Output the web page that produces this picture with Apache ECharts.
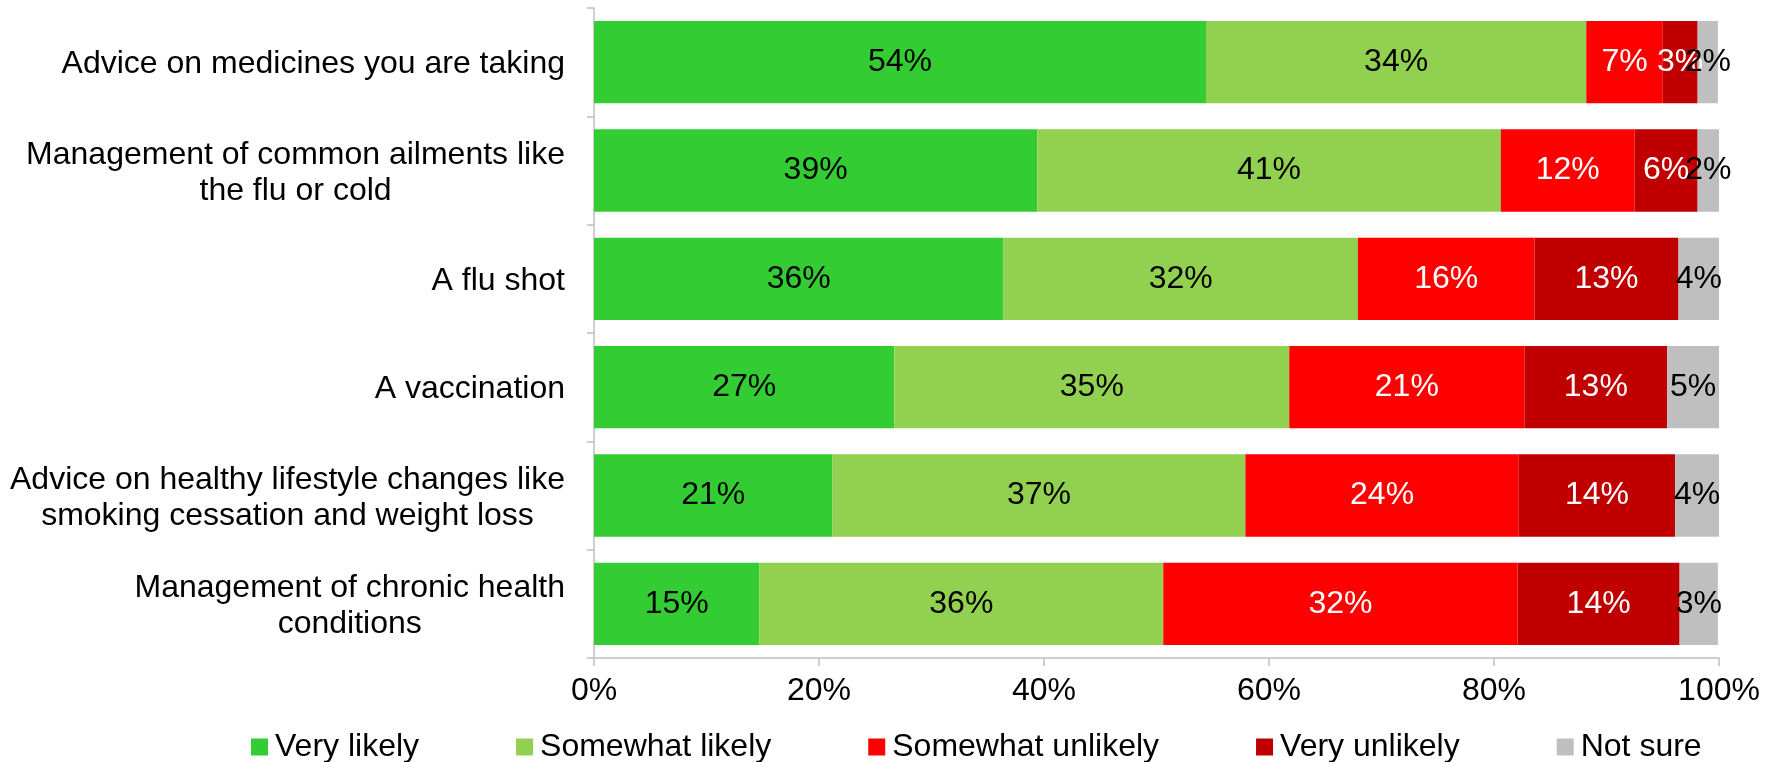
<!DOCTYPE html>
<html>
<head>
<meta charset="utf-8">
<script src="https://cdn.jsdelivr.net/npm/echarts@6/dist/echarts.min.js"></script>
<style>
html,body{margin:0;padding:0;background:#fff;}
#c{width:1775px;height:762px;}
</style>
</head>
<body>
<div id="c"></div>
<script>
const categories = [
  "Advice on medicines you are taking",
  "Management of common ailments like\nthe flu or cold",
  "A flu shot",
  "A vaccination",
  "Advice on healthy lifestyle changes like\nsmoking cessation and weight loss",
  "Management of chronic health\nconditions"
];
const seriesNames = ["Very likely", "Somewhat likely", "Somewhat unlikely", "Very unlikely", "Not sure"];
const veryLikely       = [54.4, 39.4, 36.4, 26.7, 21.2, 14.7];
const somewhatLikely   = [33.8, 41.2, 31.5, 35.1, 36.7, 35.9];
const somewhatUnlikely = [6.8, 11.9, 15.7, 20.9, 24.3, 31.5];
const veryUnlikely     = [3.1, 5.6, 12.8, 12.7, 13.9, 14.4];
const notSure          = [1.8, 1.9, 3.6, 4.6, 3.9, 3.4];
const xTicks = [0, 20, 40, 60, 80, 100];

const colors = ["#33CC33", "#92D050", "#FF0000", "#C00000", "#BFBFBF"];
const labelColors = ["#000000", "#000000", "#FFFFFF", "#FFFFFF", "#000000"];
const values = [veryLikely, somewhatLikely, somewhatUnlikely, veryUnlikely, notSure];
const FONT = "'Liberation Sans', Arial, sans-serif";
const FS = 32;

const chart = echarts.init(document.getElementById('c'));
chart.setOption({
  animation: false,
  textStyle: { fontFamily: FONT },
  grid: { left: 594, right: 56, top: 8, bottom: 104, containLabel: false },
  legend: {
    left: 246,
    top: 726,
    itemWidth: 17,
    itemHeight: 17,
    itemGap: 97,
    icon: 'rect',
    textStyle: { fontFamily: FONT, fontSize: FS, color: '#000', padding: [0, 0, 0, 2] },
    data: seriesNames
  },
  xAxis: {
    type: 'value',
    min: xTicks[0],
    max: xTicks[xTicks.length - 1],
    interval: xTicks[1] - xTicks[0],
    axisLine: { show: true, lineStyle: { color: '#BFBFBF', width: 1.5 } },
    axisTick: { show: true, length: 8, lineStyle: { color: '#BFBFBF', width: 1.5 } },
    splitLine: { show: false },
    axisLabel: {
      fontFamily: FONT, fontSize: FS, color: '#000', margin: 17,
      formatter: v => v + '%'
    }
  },
  yAxis: {
    type: 'category',
    inverse: true,
    data: categories,
    axisLine: { show: true, lineStyle: { color: '#BFBFBF', width: 1.5 } },
    axisTick: { show: true, length: 7, lineStyle: { color: '#BFBFBF', width: 1.5 } },
    axisLabel: {
      fontFamily: FONT, fontSize: FS, color: '#000', margin: 29,
      lineHeight: 36, align: 'right', padding: [5, 0, 0, 0],
      formatter: v => v.split('\n').map(l => '{c|' + l + '}').join('\n'),
      rich: { c: { align: 'center', fontFamily: FONT, fontSize: FS, lineHeight: 36, color: '#000' } }
    }
  },
  series: seriesNames.map((name, i) => ({
    name: name,
    type: 'bar',
    stack: 'total',
    barCategoryGap: '24%',
    data: values[i],
    itemStyle: { color: colors[i] },
    label: {
      show: true,
      position: 'inside',
      fontFamily: FONT,
      fontSize: FS,
      color: labelColors[i],
      formatter: p => Math.round(p.value) + '%'
    }
  }))
});
</script>
</body>
</html>
